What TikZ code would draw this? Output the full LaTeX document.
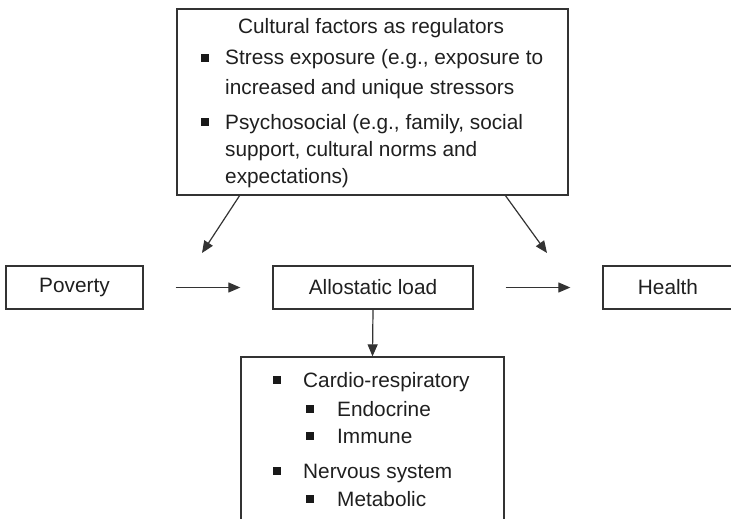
\documentclass[tikz,border=0pt]{standalone}
\usepackage{fontspec}
\setmainfont{Liberation Sans}
\usetikzlibrary{arrows.meta}
\begin{document}
\begin{tikzpicture}[x=1pt,y=-1pt,
  box/.style={draw=black!80, line width=1.3pt, inner sep=0pt, font=\fontsize{20.8}{25}\selectfont, text=black!88},
  txt/.style={inner sep=0pt, font=\fontsize{20.8}{25}\selectfont, text=black!88},
  arr/.style={draw=black!80, line width=1.2pt, -{Triangle[length=12pt,width=10pt]}},
  bul/.style={fill=black!90, minimum size=8pt, inner sep=0pt, draw=none, rectangle}]
\useasboundingbox (0,0) rectangle (731,519);
\clip (0,0) rectangle (731,519);
% boxes
\node[box, minimum width=391pt, minimum height=186pt] (top) at (372.5,102) {};
\node[box, minimum width=137pt, minimum height=43pt] (pov) at (74.5,287.5) {Poverty};
\node[box, minimum width=200pt, minimum height=43pt] (allo) at (373,287.5) {Allostatic load};
\node[box, minimum width=130pt, minimum height=43pt] (health) at (668,287.5) {Health};
\node[box, minimum width=263pt, minimum height=186pt] (bot) at (372.5,450) {};
% top box text
\node[txt, anchor=base] (title) at (371,34) {Cultural factors as regulators};
\node[bul] (b1) at (205,58) {};
\node[txt, anchor=base west] (i1a) at (225,65) {Stress exposure (e.g., exposure to};
\node[txt, anchor=base west] (i1b) at (225,95) {increased and unique stressors};
\node[bul] (b2) at (205,122) {};
\node[txt, anchor=base west] (i2a) at (225,129) {Psychosocial (e.g., family, social};
\node[txt, anchor=base west] (i2b) at (225,156) {support, cultural norms and};
\node[txt, anchor=base west] (i2c) at (225,183) {expectations)};
% bottom box text
\node[bul] (c1) at (277,380) {};
\node[txt, anchor=base west] (t1) at (303,387) {Cardio-respiratory};
\node[bul] (c2) at (310,409) {};
\node[txt, anchor=base west] (t2) at (337,416) {Endocrine};
\node[bul] (c3) at (310,436) {};
\node[txt, anchor=base west] (t3) at (337,443) {Immune};
\node[bul] (c4) at (277,471) {};
\node[txt, anchor=base west] (t4) at (303,478) {Nervous system};
\node[bul] (c5) at (310,499) {};
\node[txt, anchor=base west] (t5) at (337,506) {Metabolic};
% connectors
\coordinate (ls) at (240,195);
\coordinate (le) at (202,253);
\coordinate (rs) at (505,195);
\coordinate (re) at (547,253);
\draw[arr] (ls) -- (le);
\draw[arr] (rs) -- (re);
\draw[arr] ([xshift=32pt]pov.east) -- ([xshift=-32pt]allo.west);
\draw[arr] ([xshift=32pt]allo.east) -- ([xshift=-32pt]health.west);
\draw[arr] (allo.south) -- (bot.north);
\end{tikzpicture}
\end{document}
